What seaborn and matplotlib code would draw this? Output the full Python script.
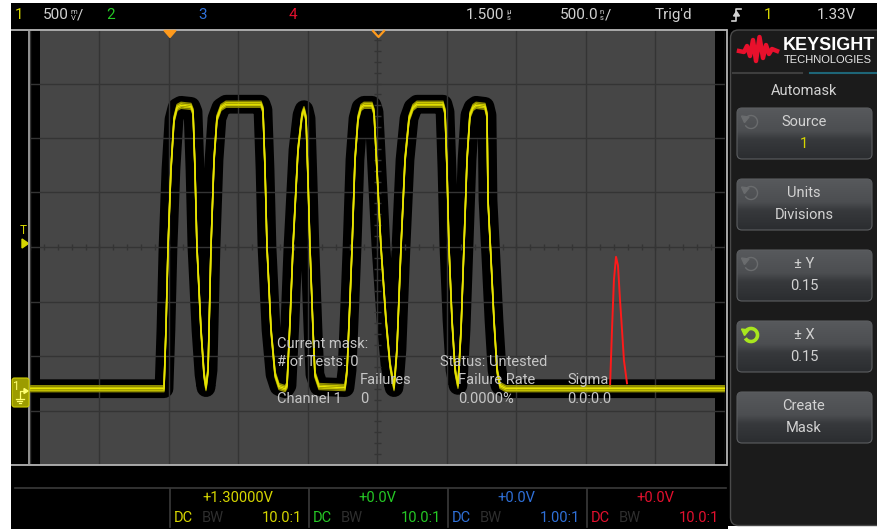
import numpy as np
import pandas as pd
import matplotlib
matplotlib.use("Agg")
import matplotlib.pyplot as plt
import seaborn as sns
from matplotlib import transforms
from matplotlib.patches import Rectangle, FancyBboxPatch, Polygon, Arc
from matplotlib.colors import LinearSegmentedColormap

# Channel 1 trace: time in microseconds, amplitude in volts
ch1_time_us = [-1.0, -0.49, -0.036, -0.022, -0.007, 0.014, 0.036, 0.058, 0.086, 0.158,
               0.173, 0.187, 0.201, 0.230, 0.252, 0.266,
               0.281, 0.302, 0.324, 0.345, 0.374, 0.410, 0.662,
               0.676, 0.691, 0.705, 0.734, 0.763, 0.791, 0.835,
               0.849, 0.871, 0.892, 0.928, 0.957, 0.971,
               0.986, 1.000, 1.014, 1.036, 1.050, 1.079, 1.266,
               1.281, 1.302, 1.317, 1.338, 1.360, 1.381, 1.403, 1.460,
               1.475, 1.496, 1.525, 1.561, 1.590, 1.619,
               1.640, 1.669, 1.698, 1.727, 1.755, 1.784, 1.971,
               1.986, 2.000, 2.014, 2.036, 2.058, 2.079,
               2.101, 2.122, 2.144, 2.165, 2.187, 2.209, 2.273,
               2.288, 2.295, 2.317, 2.338, 2.360, 2.381, 2.424, 2.82, 3.40, 4.0]
ch1_volts = [0.0, 0.0, 0.0, 0.54, 1.30, 2.01, 2.47, 2.58, 2.60, 2.59,
             2.54, 2.01, 1.30, 0.54, 0.13, 0.01,
             0.17, 1.30, 2.10, 2.48, 2.58, 2.61, 2.61,
             2.56, 2.01, 1.30, 0.54, 0.13, 0.02, 0.0,
             0.03, 0.63, 1.30, 2.19, 2.51, 2.56,
             2.48, 1.92, 1.30, 0.54, 0.13, 0.02, 0.01,
             0.17, 0.81, 1.30, 2.10, 2.48, 2.58, 2.60, 2.60,
             2.54, 2.01, 1.30, 0.63, 0.22, 0.01,
             0.36, 1.30, 2.10, 2.48, 2.58, 2.61, 2.61,
             2.54, 2.01, 1.30, 0.63, 0.17, 0.03,
             0.54, 1.30, 2.10, 2.51, 2.58, 2.60, 2.59,
             2.51, 1.73, 1.18, 0.63, 0.17, 0.03, 0.0, 0.0, 0.0, 0.0]

# red trace (only the visible spike)
red_time_us = [3.173, 3.187, 3.201, 3.216, 3.230, 3.245, 3.259, 3.273, 3.295]
red_volts = [0.02, 0.54, 1.00, 1.21, 1.13, 0.81, 0.54, 0.26, 0.05]

# screen settings
time_window_us = [-1.0, 4.0]
volt_window = [-0.7, 3.3]
div_time_us = 0.5
div_volts = 0.5
center_time_us = 1.5
center_volts = 1.3
mask_tol_div = 0.15

channel_names = ["1", "2", "3", "4"]
channel_colors = ["#d6d600", "#25c825", "#2f70d8", "#e2102e"]
channel_offsets = ["+1.30000V", "+0.0V", "+0.0V", "+0.0V"]
channel_probes = ["10.0:1", "10.0:1", "1.00:1", "10.0:1"]

softkeys = [("Source", "1"), ("Units", "Divisions"), ("\u00b1 Y", "0.15"),
            ("\u00b1 X", "0.15"), ("Create", "Mask")]

mask_lines = [("Current mask:", 277, 344), ("# of Tests: 0", 277, 362),
              ("Status: Untested", 440, 362), ("Failures", 360, 380),
              ("Failure Rate", 458, 380), ("Sigma", 567, 380),
              ("Channel 1", 277, 399), ("0", 360, 399),
              ("0.0000%", 458, 399), ("0.0:0.0", 567, 399)]

# ---------------- figure ----------------
plt.rcParams['font.family'] = ['Roboto', 'DejaVu Sans']
W, H = 878, 529
fig = plt.figure(figsize=(W / 100, H / 100), dpi=100, facecolor='white')

def pix_axes(z):
    a = fig.add_axes([0, 0, 1, 1], zorder=z)
    a.set_xlim(0, W)
    a.set_ylim(H, 0)
    a.axis('off')
    a.patch.set_alpha(0)
    return a

bg = pix_axes(0)
bg.add_patch(Rectangle((11, 3), W - 11, H - 3, facecolor='black', edgecolor='none'))

# ---------------- main graticule ----------------
gx0, gx1, gy0, gy1 = 30, 725, 29, 465
ax = fig.add_axes([gx0 / W, 1 - gy1 / H, (gx1 - gx0) / W, (gy1 - gy0) / H], zorder=1)
ax.set_facecolor('black')

tol_t = mask_tol_div * div_time_us
ax.axvspan(time_window_us[0] + tol_t, time_window_us[1] - tol_t, color='#464646', zorder=1, lw=0)

df1 = pd.DataFrame({"t": ch1_time_us, "v": ch1_volts})
dfr = pd.DataFrame({"t": red_time_us, "v": red_volts})

# black mask-tolerance band around the waveform
sns.lineplot(data=df1, x="t", y="v", ax=ax, color='black', linewidth=13.5,
             estimator=None, sort=False, zorder=1.8, solid_joinstyle='round',
             solid_capstyle='butt', legend=False)
# red trace
sns.lineplot(data=dfr, x="t", y="v", ax=ax, color='#ff1a1a', linewidth=1.4,
             estimator=None, sort=False, zorder=4, legend=False)
# persistence fuzz on channel 1
for dy, col, lw in [(-3.0, '#8e8c00', 1.0), (3.0, '#8e8c00', 1.0),
                    (-1.5, '#c8c400', 1.1), (1.5, '#c8c400', 1.1)]:
    tr = transforms.offset_copy(ax.transData, fig=fig, x=0, y=dy, units='dots')
    ax.plot(ch1_time_us, ch1_volts, color=col, lw=lw, transform=tr, zorder=4.5,
            solid_joinstyle='round')
sns.lineplot(data=df1, x="t", y="v", ax=ax, color='#e8e400', linewidth=1.1,
             estimator=None, sort=False, zorder=5, legend=False)

ax.set_xlim(*time_window_us)
ax.set_ylim(*volt_window)
ax.set_xlabel('')
ax.set_ylabel('')
ax.set_xticks(np.arange(time_window_us[0], time_window_us[1] + 1e-9, div_time_us))
ax.set_yticks(np.arange(volt_window[0], volt_window[1] + 1e-9, div_volts))
ax.tick_params(length=0, labelbottom=False, labelleft=False)
ax.grid(True, color='#343434', lw=1.0)
ax.set_axisbelow(False)
for s in ax.spines.values():
    s.set_visible(False)
# minor ticks on the centre cross
mx = np.arange(time_window_us[0], time_window_us[1] + 1e-9, div_time_us / 5)
my = np.arange(volt_window[0], volt_window[1] + 1e-9, div_volts / 5)
ax.vlines(mx, center_volts - 0.028, center_volts + 0.028, color='#343434', lw=1, zorder=2.5)
ax.hlines(my, center_time_us - 0.022, center_time_us + 0.022, color='#343434', lw=1, zorder=2.5)

# ---------------- overlay ----------------
ov = pix_axes(3)
TXT = '#d2d2d2'
FS = 10.5
FT = 11

def txt(x, y, s, color=TXT, size=FS, ha='left', weight='normal', family=None, ls=1.2):
    kw = {}
    if family is not None:
        kw['family'] = family
    ov.text(x, y, s, color=color, fontsize=size, ha=ha, va='center', weight=weight,
            zorder=10, linespacing=ls, **kw)

# frame lines
ov.plot([11, 727], [29.5, 29.5], color='#b4b4b4', lw=1.3, solid_capstyle='butt')
ov.plot([11, 727], [465, 465], color='#b4b4b4', lw=1.3, solid_capstyle='butt')
ov.plot([29.5, 29.5], [29.5, 465], color='#a0a0a0', lw=1.3)
ov.plot([727, 727], [29.5, 465], color='#b4b4b4', lw=1.3)

# top status bar
txt(19, 15, channel_names[0], channel_colors[0], FT, ha='center')
txt(69, 15, "500", size=FT, ha='right')
txt(73.5, 15, "m\nV", size=5.5, ha='center', ls=1.05)
txt(77, 15, "/", size=FT)
txt(111, 15, channel_names[1], channel_colors[1], FT, ha='center')
txt(203, 15, channel_names[2], channel_colors[2], FT, ha='center')
txt(293, 15, channel_names[3], channel_colors[3], FT, ha='center')
txt(504, 15, "1.500", size=FT, ha='right')
txt(508.5, 15, "\u00b5\ns", size=5.5, ha='center', ls=1.05)
txt(598, 15, "500.0", size=FT, ha='right')
txt(601.5, 15, "n\ns", size=5.5, ha='center', ls=1.05)
txt(605, 15, "/", size=FT)
txt(655, 15, "Trig'd", size=FT)
ov.plot([732, 736.5, 736.5, 741], [21, 21, 9, 9], color=TXT, lw=1.2)
ov.add_patch(Polygon([(733.5, 16), (739.5, 16), (736.5, 11.5)], closed=True, color=TXT))
txt(768, 15, "1", channel_colors[0], FT, ha='center')
txt(817, 15, "1.33V", size=FT)

# trigger / reference markers
ov.add_patch(Polygon([(164, 30.5), (176, 30.5), (170, 37.5)], closed=True, color='#ff9a1c', zorder=6))
ov.plot([373, 378.5, 384], [31, 37, 31], color='#ff9a1c', lw=1.6, zorder=6)
txt(23.5, 231, "T", channel_colors[0], 8.5, ha='center')
ov.add_patch(Polygon([(22, 239), (22, 248), (28.5, 243.5)], closed=True, color=channel_colors[0]))

# ground marker
ov.add_patch(FancyBboxPatch((12, 378), 17, 29, boxstyle='round,pad=0,rounding_size=2.5',
                            facecolor='#9c9c00', edgecolor='#d0d000', lw=0.8, zorder=6))
txt(16, 387, "1", '#ffff70', 8.5, ha='center')
ov.plot([20, 20, 25], [399, 391, 391], color='#ffff70', lw=0.9, zorder=7)
ov.add_patch(Polygon([(24, 388.5), (24, 393.5), (28, 391)], closed=True, color='#ffff70', zorder=7))
for i, (a, b) in enumerate([(16, 24), (17.5, 22.5), (19, 21)]):
    ov.plot([a, b], [399 + 2 * i, 399 + 2 * i], color='#ffff70', lw=0.9, zorder=7)

# mask statistics text
for s, x, y in mask_lines:
    txt(x, y, s, '#c6c6c6', FS)

# bottom channel info
ov.plot([15, 726], [488, 488], color='#3a3a3a', lw=1.2)
for i in range(4):
    x0 = 170 + 139 * i
    ov.plot([x0, x0], [489, 527], color='#3a3a3a', lw=1.2)
    c = channel_colors[i]
    txt(x0 + 68, 498, channel_offsets[i], c, FS, ha='center')
    txt(x0 + 4, 518, "DC", c, FS)
    txt(x0 + 32, 518, "BW", '#2e2e2e', FS)
    txt(x0 + 132, 518, channel_probes[i], c, FS, ha='right')

# right softkey panel
ov.add_patch(Rectangle((728, 526), 150, 4, facecolor='white', edgecolor='none'))
ov.add_patch(FancyBboxPatch((730.5, 30), 160, 495.5, boxstyle='round,pad=0,rounding_size=8',
                            facecolor='#1b1b1b', edgecolor='#4a4a4a', lw=1.0))
# logo
ov.plot([739, 744, 747, 750, 753, 756, 759.5, 763, 766, 769, 772, 777],
        [51, 52, 46, 56, 40, 61, 37, 58, 45, 54, 49, 51],
        color='#e8102c', lw=3.2, solid_joinstyle='round', zorder=5)
txt(783, 45, "KEYSIGHT", 'white', 13, weight='bold', family='Liberation Sans')
txt(783.5, 60, "TECHNOLOGIES", '#e8e8e8', 8, family='Liberation Sans')
ov.plot([733, 802], [73, 73], color='#3e3e3e', lw=1.5)
ov.plot([810, 878], [73, 73], color='#1e6678', lw=1.5)
txt(804, 91, "Automask", TXT, FS, ha='center')

btn_cmap = LinearSegmentedColormap.from_list(
    'btn', [(0, '#57595c'), (0.45, '#4c4e51'), (0.62, '#37393c'), (1, '#2b2d30')])
grad = np.linspace(0, 1, 64)[:, None]
for i, (l1, l2) in enumerate(softkeys):
    top = 108 + 71 * i
    patch = FancyBboxPatch((737, top), 135, 51, boxstyle='round,pad=0,rounding_size=5',
                           facecolor='none', edgecolor='#5c5e61', lw=0.8, zorder=5)
    img = ov.imshow(grad, cmap=btn_cmap, extent=[737, 872, top + 51, top], aspect='auto',
                    zorder=4, interpolation='bilinear')
    ov.add_patch(patch)
    img.set_clip_path(patch)
    txt(804, top + 14, l1, TXT, FS, ha='center')
    txt(804, top + 36, l2, channel_colors[0] if i == 0 else TXT, FS, ha='center')
    if i < 4:
        green = (i == 3)
        col = '#a8e61e' if green else '#6a6c6e'
        lw = 2.6 if green else 1.0
        cx, cy = 751, top + 14
        ov.add_patch(Arc((cx, cy), 13, 13, theta1=-150, theta2=150, color=col, lw=lw, zorder=6))
        ov.add_patch(Polygon([(cx - 9.5, cy - 6), (cx - 2, cy - 5), (cx - 6.5, cy + 0.5)],
                             closed=True, color=col, zorder=6))

ov.set_xlim(0, W)
ov.set_ylim(H, 0)

fig.savefig("out.png", dpi=100, facecolor=fig.get_facecolor())
